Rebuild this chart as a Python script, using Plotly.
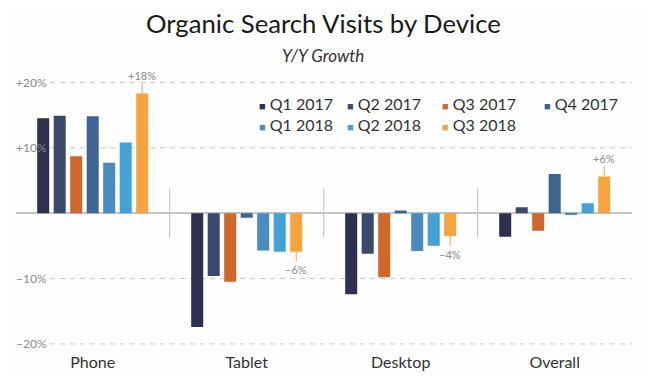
import plotly.graph_objects as go

categories = ["Phone", "Tablet", "Desktop", "Overall"]
series_names = ["Q1 2017", "Q2 2017", "Q3 2017", "Q4 2017", "Q1 2018", "Q2 2018", "Q3 2018"]
q1_2017 = [14.5, -17.4, -12.4, -3.6]
q2_2017 = [14.9, -9.6, -6.2, 0.9]
q3_2017 = [8.7, -10.5, -9.8, -2.7]
q4_2017 = [14.8, -0.7, 0.4, 6.0]
q1_2018 = [7.7, -5.7, -5.8, -0.3]
q2_2018 = [10.8, -5.9, -5.0, 1.5]
q3_2018 = [18.3, -5.9, -3.5, 5.6]
q3_2018_labels = ["+18%", "\u22126%", "\u22124%", "+6%"]
colors = ["#2f3050", "#3b4a6c", "#d0672a", "#3e6491", "#4a8cbf", "#43a1d6", "#f6a43e"]
y_tickvals = [-20, -10, 10, 20]
y_ticktext = ["\u221220%", "\u221210%", "+10%", "+20%"]

series = [q1_2017, q2_2017, q3_2017, q4_2017, q1_2018, q2_2018, q3_2018]
FONT = "Lato"
W, H = 650, 377
O = 8  # page body margin offset
bargap = 0.25
n = len(series)

fig = go.Figure()
xs = list(range(len(categories)))
for name, vals, c in zip(series_names, series, colors):
    fig.add_trace(go.Bar(x=xs, y=vals, name=name, marker_color=c, marker_line_width=0,
                         showlegend=False))

fig.update_layout(
    width=W, height=H, margin=dict(l=0, r=0, t=0, b=0, autoexpand=False),
    paper_bgcolor="#fefefe", plot_bgcolor="rgba(0,0,0,0)",
    barmode="group", bargap=bargap, bargroupgap=0.27,
    font=dict(family=FONT, color="#333333"),
)
fig.update_xaxes(range=[-0.5, 3.5], domain=[(15.7 - O) / W, (631.7 - O) / W], tickvals=xs,
                 ticktext=categories, showgrid=False, zeroline=False, showline=False, ticks="",
                 automargin=False, tickfont=dict(size=16, color="#333333"))
fig.update_yaxes(range=[-21, 21], domain=[1 - (350.5 - O) / H, 1 - (75.8 - O) / H],
                 showticklabels=False, showgrid=False, zeroline=True, zerolinecolor="#c4c4c4",
                 zerolinewidth=2, ticks="", automargin=False)

# y tick labels and dashed gridlines
for v, t in zip(y_tickvals, y_ticktext):
    fig.add_shape(type="line", xref="paper", yref="y", x0=(50 - O) / W, x1=(632 - O) / W, y0=v, y1=v,
                  line=dict(color="#c8c8c8", width=1, dash="5px,5px"), layer="below")
    fig.add_annotation(xref="paper", yref="y", x=(14 - O) / W, y=v, text=t, showarrow=False,
                       xanchor="left", yanchor="middle", font=dict(size=12, color="#8a8a8a"))
# category dividers
for i in range(len(categories) - 1):
    fig.add_shape(type="line", xref="x", yref="y", x0=i + 0.5, x1=i + 0.5, y0=-3.7, y1=3.8,
                  line=dict(color="#bdbdbd", width=1), layer="below")

# value labels for Q3 2018
slot = (1 - bargap) / n
off = -(1 - bargap) / 2 + (n - 0.5) * slot
for i, (v, t) in enumerate(zip(q3_2018, q3_2018_labels)):
    fig.add_annotation(x=i + off, y=v, text=t, showarrow=True, arrowhead=0, arrowwidth=1,
                       arrowcolor="#f6a43e", ax=0, ay=-18 if v > 0 else 18, standoff=0,
                       font=dict(size=11, color="#8a8a8a"))

# title / subtitle
fig.add_annotation(xref="paper", yref="paper", x=(323 - O) / W, y=1 - (23 - O) / H,
                   text="Organic Search Visits by Device", showarrow=False,
                   font=dict(size=25.7, color="#1a1a1a"), xanchor="center", yanchor="middle")
fig.add_annotation(xref="paper", yref="paper", x=(323 - O) / W, y=1 - (55 - O) / H,
                   text="<i>Y/Y Growth</i>", showarrow=False,
                   font=dict(size=17, color="#333333"), xanchor="center", yanchor="middle")

# legend
leg_x = [257, 345, 440, 542]
leg_y = [104, 124]
for k, (name, c) in enumerate(zip(series_names, colors)):
    r, col = divmod(k, 4)
    fig.add_annotation(xref="paper", yref="paper", x=(leg_x[col] - O) / W, y=1 - (leg_y[r] - O) / H,
                       text=f'<span style="color:{c};font-size:11px">\u25A0</span> {name}',
                       showarrow=False, xanchor="left", yanchor="middle",
                       font=dict(size=16, color="#333333"))

fig.write_html("out.html")
